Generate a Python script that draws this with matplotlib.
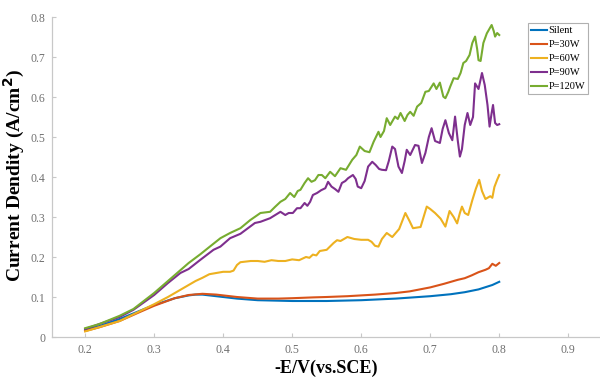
import matplotlib
matplotlib.use("Agg")
import matplotlib.pyplot as plt

plt.rcParams["font.family"] = ["Liberation Serif", "DejaVu Serif"]

# SECTION 1 — DATA

labels = ["Silent", "P=30W", "P=60W", "P=90W", "P=120W"]
colors = ["#0072BD", "#D95319", "#EDB120", "#7E2F8E", "#77AC30"]

x_silent = [0.2, 0.22, 0.25, 0.28, 0.3, 0.33, 0.35, 0.36, 0.37, 0.39, 0.42, 0.45, 0.5,
            0.55, 0.6, 0.65, 0.7, 0.73, 0.75, 0.77, 0.79, 0.8]
y_silent = [0.018, 0.027, 0.045, 0.066, 0.08, 0.097, 0.104, 0.106, 0.106, 0.102, 0.096,
            0.092, 0.09, 0.09, 0.092, 0.096, 0.102, 0.107, 0.112, 0.119, 0.13, 0.138]

x_30w = [0.2, 0.22, 0.25, 0.28, 0.3, 0.33, 0.35, 0.37, 0.39, 0.42, 0.45, 0.48, 0.5, 0.53,
         0.55, 0.58, 0.6, 0.62, 0.65, 0.67, 0.7, 0.72, 0.74, 0.75, 0.76, 0.77, 0.78, 0.785,
         0.79, 0.795, 0.8]
y_30w = [0.015, 0.024, 0.04, 0.063, 0.078, 0.097, 0.105, 0.108, 0.106, 0.1, 0.096, 0.096,
         0.097, 0.099, 0.1, 0.102, 0.104, 0.106, 0.11, 0.114, 0.124, 0.133, 0.143, 0.147,
         0.154, 0.162, 0.168, 0.172, 0.183, 0.178, 0.185]

x_60w = [0.2, 0.25, 0.3, 0.32, 0.34, 0.36, 0.37, 0.38, 0.4, 0.41, 0.415, 0.42, 0.425,
         0.44, 0.45, 0.46, 0.47, 0.48, 0.49, 0.5, 0.51, 0.52, 0.525, 0.53, 0.535, 0.54,
         0.55, 0.56, 0.565, 0.57, 0.58, 0.59, 0.6, 0.61, 0.615, 0.62, 0.625, 0.63, 0.637,
         0.645, 0.655, 0.664, 0.67, 0.675, 0.686, 0.695, 0.7, 0.707, 0.715, 0.722, 0.728,
         0.734, 0.739, 0.743, 0.746, 0.75, 0.755, 0.761, 0.766, 0.771, 0.775, 0.78, 0.787,
         0.79, 0.793, 0.797, 0.8]
y_60w = [0.014, 0.04, 0.082, 0.1, 0.12, 0.14, 0.148, 0.157, 0.163, 0.163, 0.166, 0.18,
         0.187, 0.19, 0.19, 0.188, 0.192, 0.19, 0.19, 0.194, 0.192, 0.2, 0.198, 0.206,
         0.204, 0.215, 0.218, 0.235, 0.242, 0.24, 0.25, 0.245, 0.243, 0.243, 0.238, 0.228,
         0.226, 0.245, 0.26, 0.25, 0.27, 0.31, 0.29, 0.272, 0.275, 0.326, 0.32, 0.31, 0.296,
         0.276, 0.315, 0.3, 0.284, 0.31, 0.326, 0.31, 0.305, 0.342, 0.37, 0.393, 0.365,
         0.345, 0.352, 0.348, 0.375, 0.393, 0.405]

x_90w = [0.2, 0.25, 0.27, 0.3, 0.32, 0.338, 0.35, 0.367, 0.386, 0.396, 0.41, 0.425, 0.446,
         0.454, 0.468, 0.483, 0.49, 0.495, 0.501, 0.507, 0.512, 0.518, 0.522, 0.526, 0.53,
         0.536, 0.542, 0.548, 0.552, 0.557, 0.562, 0.567, 0.572, 0.577, 0.581, 0.588,
         0.592, 0.595, 0.6, 0.605, 0.61, 0.616, 0.621, 0.626, 0.63, 0.636, 0.64, 0.645,
         0.649, 0.654, 0.659, 0.663, 0.666, 0.671, 0.678, 0.683, 0.688, 0.693, 0.698,
         0.702, 0.707, 0.714, 0.718, 0.722, 0.727, 0.732, 0.736, 0.74, 0.743, 0.746, 0.75,
         0.754, 0.758, 0.762, 0.765, 0.77, 0.775, 0.779, 0.783, 0.786, 0.789, 0.791, 0.794,
         0.797, 0.8]
y_90w = [0.02, 0.05, 0.068, 0.105, 0.135, 0.16, 0.17, 0.193, 0.218, 0.226, 0.247, 0.258,
         0.285, 0.288, 0.297, 0.313, 0.305, 0.31, 0.31, 0.322, 0.322, 0.335, 0.328, 0.338,
         0.355, 0.36, 0.367, 0.372, 0.388, 0.376, 0.37, 0.363, 0.385, 0.39, 0.397, 0.405,
         0.395, 0.376, 0.372, 0.39, 0.426, 0.438, 0.43, 0.42, 0.418, 0.417, 0.44, 0.476,
         0.47, 0.426, 0.41, 0.44, 0.468, 0.455, 0.48, 0.478, 0.435, 0.46, 0.50, 0.522, 0.49,
         0.485, 0.52, 0.542, 0.51, 0.492, 0.551, 0.49, 0.451, 0.47, 0.53, 0.56, 0.53, 0.55,
         0.634, 0.62, 0.66, 0.63, 0.58, 0.526, 0.56, 0.58, 0.535, 0.53, 0.532]

x_120w = [0.2, 0.22, 0.25, 0.27, 0.3, 0.32, 0.35, 0.367, 0.38, 0.396, 0.41, 0.425, 0.439,
          0.454, 0.468, 0.475, 0.483, 0.49, 0.497, 0.503, 0.508, 0.512, 0.518, 0.523,
          0.528, 0.533, 0.538, 0.543, 0.548, 0.555, 0.562, 0.57, 0.578, 0.587, 0.593,
          0.598, 0.605, 0.612, 0.618, 0.625, 0.628, 0.633, 0.637, 0.642, 0.649, 0.653,
          0.657, 0.663, 0.667, 0.671, 0.676, 0.681, 0.687, 0.693, 0.698, 0.705, 0.709,
          0.714, 0.719, 0.722, 0.726, 0.729, 0.734, 0.74, 0.744, 0.748, 0.752, 0.757,
          0.761, 0.765, 0.768, 0.77, 0.773, 0.777, 0.782, 0.789, 0.792, 0.794, 0.797, 0.8]
y_120w = [0.022, 0.032, 0.053, 0.07, 0.11, 0.14, 0.185, 0.207, 0.225, 0.247, 0.26, 0.272,
          0.292, 0.31, 0.313, 0.325, 0.338, 0.345, 0.36, 0.35, 0.365, 0.368, 0.385, 0.397,
          0.388, 0.392, 0.405, 0.405, 0.397, 0.413, 0.402, 0.422, 0.418, 0.443, 0.455,
          0.476, 0.465, 0.462, 0.488, 0.513, 0.50, 0.515, 0.547, 0.53, 0.551, 0.545, 0.56,
          0.54, 0.555, 0.563, 0.553, 0.576, 0.585, 0.613, 0.615, 0.634, 0.62, 0.636, 0.601,
          0.597, 0.612, 0.626, 0.647, 0.645, 0.66, 0.685, 0.69, 0.705, 0.735, 0.751, 0.72,
          0.692, 0.69, 0.735, 0.759, 0.78, 0.765, 0.751, 0.76, 0.755]

xs = [x_silent, x_30w, x_60w, x_90w, x_120w]
ys = [y_silent, y_30w, y_60w, y_90w, y_120w]
for xv, yv in zip(xs, ys):
    assert len(xv) == len(yv), (len(xv), len(yv))

x_ticks = [0.2, 0.3, 0.4, 0.5, 0.6, 0.7, 0.8, 0.9]
y_ticks = [0, 0.1, 0.2, 0.3, 0.4, 0.5, 0.6, 0.7, 0.8]

# SECTION 2 — PLOT

fig = plt.figure(figsize=(6, 3.8), dpi=100)
ax = fig.add_axes([52 / 600, 43 / 380, 548 / 600, 320 / 380])

for xv, yv, c, lab in zip(xs, ys, colors, labels):
    ax.plot(xv, yv, color=c, linewidth=1.5, label=lab)

ax.set_xlim(0.152, 0.946)
ax.set_ylim(0, 0.8)
ax.set_xticks(x_ticks)
ax.set_xticklabels([f"{t:g}" for t in x_ticks])
ax.set_yticks(y_ticks)
ax.set_yticklabels([f"{t:g}" for t in y_ticks])

for side in ["top", "right"]:
    ax.spines[side].set_visible(False)
for side in ["left", "bottom"]:
    ax.spines[side].set_color("#c8c8c8")
    ax.spines[side].set_linewidth(0.9)
ax.tick_params(direction="in", length=3, width=0.8, color="#c8c8c8",
               labelcolor="#707070", labelsize=8.5, pad=5)

fig.text(14 / 600, 1 - 176 / 380, "Current Dendity (A/cm$^\\mathbf{2}$)",
         rotation=90, ha="center", va="center", fontsize=14, fontweight="bold")
fig.text(326 / 600, 1 - 368 / 380, "-E/V(vs.SCE)",
         ha="center", va="center", fontsize=13, fontweight="bold")

leg = ax.legend(loc="upper left", bbox_to_anchor=(528 / 600, 1 - 23 / 380),
                bbox_transform=fig.transFigure, borderaxespad=0, fontsize=7.5,
                handlelength=1.5, handletextpad=0.15, labelspacing=0.45,
                borderpad=0.3, fancybox=False, framealpha=1)
leg.get_frame().set_edgecolor("#b0b0b0")
leg.get_frame().set_linewidth(0.8)

fig.savefig("out.png", dpi=100)
